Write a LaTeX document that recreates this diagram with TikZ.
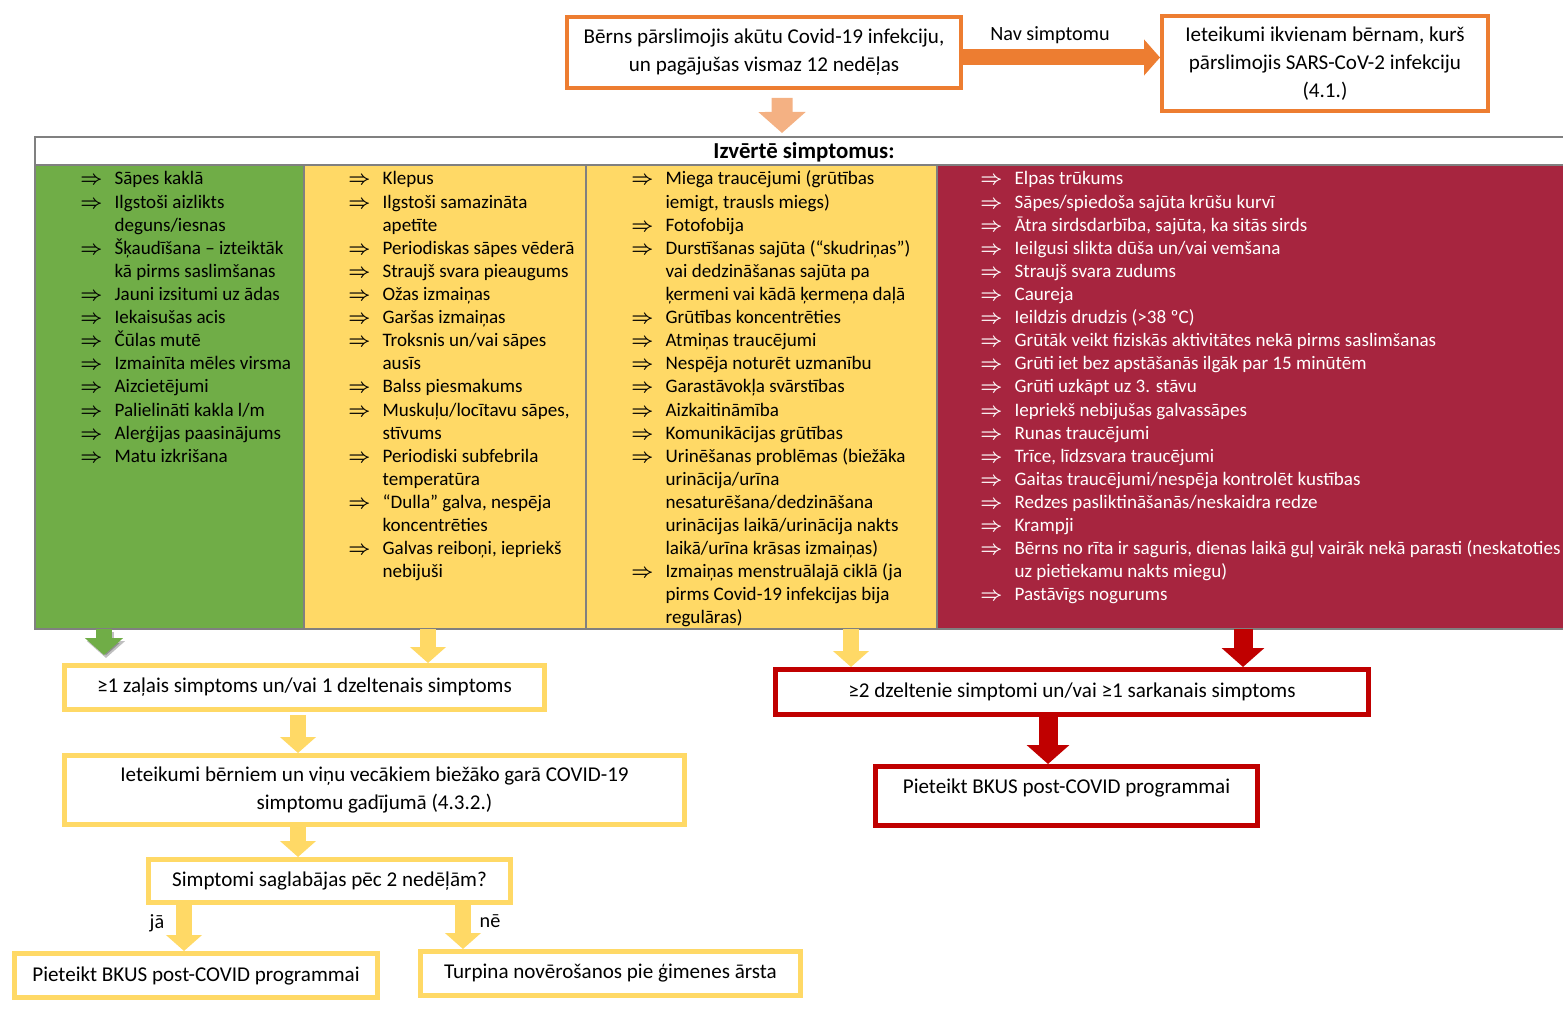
\documentclass[tikz,border=0pt]{standalone}
\usepackage{fontspec}
\usepackage{amsmath}
\setmainfont{Carlito}
\usetikzlibrary{arrows.meta}

\definecolor{covorange}{HTML}{ED7D31}
\definecolor{covpeach}{HTML}{F4B183}
\definecolor{covgreen}{HTML}{70AD47}
\definecolor{covyellow}{HTML}{FFD966}
\definecolor{covmaroon}{HTML}{A7253F}
\definecolor{covred}{HTML}{C00000}

\newcommand{\arr}{\makebox[19.5pt][l]{\boldmath$\Rightarrow$}}
\newcommand{\nxt}{\hspace*{19.5pt}}

\begin{document}
\begin{tikzpicture}[x=0.02cm,y=-0.02cm,
    lst/.style={anchor=base west,inner sep=0pt,font=\fontsize{10.85}{13.15}\selectfont},
    box/.style={draw,align=center,inner sep=0pt,font=\fontsize{12}{15.9}\selectfont},
    obox/.style={box,draw=covorange,line width=0.08cm},
    ybox/.style={box,draw=covyellow,line width=0.1cm},
    rbox/.style={box,draw=covred,line width=0.1cm},
    fat/.style={line width=#1,-{Triangle[width=0pt 2.2,length=0pt 1]}},
    fat/.default=0.32cm]
        \useasboundingbox (0,0) rectangle (1563,1023);

        % top
        \node[obox,minimum width=7.88cm,minimum height=1.42cm](start)at(764,52.5)
            {Bērns pārslimojis akūtu Covid-19 infekciju,\\un pagājušas vismaz 12 nedēļas};
        \node[obox,minimum width=6.52cm,minimum height=1.90cm](advice)at(1325,63.5)
            {Ieteikumi ikvienam bērnam, kurš\\pārslimojis SARS-CoV-2 infekciju\\(4.1.)};
        \node[font=\fontsize{11.5}{15.9}\selectfont](nosym)at(1050,35){Nav simptomu};
        \draw[fat,covorange]([yshift=-0.1cm]start.east)--([yshift=-0.1cm]start.east-|advice.west);

        % table
        \fill[covgreen](35,165)rectangle(304,629);
        \fill[covyellow](304,165)rectangle(937,629);
        \fill[covmaroon](937,165)rectangle(1575,629);
        \draw[gray,line width=0.03cm](35,137)rectangle(1575,629);
        \draw[gray,line width=0.03cm](35,165)--(1575,165);
        \foreach \x in {304,586,937}
            \draw[gray,line width=0.03cm](\x,165)--(\x,629);
        \node[font=\fontsize{13}{15.9}\selectfont\bfseries](evalhdr)at(804,152){Izvērtē simptomus:};
        \coordinate(evaltop)at(782,133);
        \draw[fat=0.42cm,covpeach]([xshift=0.36cm,yshift=-0.16cm]start.south)--(evaltop);

        \node[lst](greenlist)at(80,185){\begin{tabular}[t]{@{}l@{}}
            \arr Sāpes kaklā\\
            \arr Ilgstoši aizlikts\\
            \nxt deguns/iesnas\\
            \arr Šķaudīšana – izteiktāk\\
            \nxt kā pirms saslimšanas\\
            \arr Jauni izsitumi uz ādas\\
            \arr Iekaisušas acis\\
            \arr Čūlas mutē\\
            \arr Izmainīta mēles virsma\\
            \arr Aizcietējumi\\
            \arr Palielināti kakla l/m\\
            \arr Alerģijas paasinājums\\
            \arr Matu izkrišana
        \end{tabular}};
        \node[lst](yellowlist)at(348,185){\begin{tabular}[t]{@{}l@{}}
            \arr Klepus\\
            \arr Ilgstoši samazināta\\
            \nxt apetīte\\
            \arr Periodiskas sāpes vēderā\\
            \arr Straujš svara pieaugums\\
            \arr Ožas izmaiņas\\
            \arr Garšas izmaiņas\\
            \arr Troksnis un/vai sāpes\\
            \nxt ausīs\\
            \arr Balss piesmakums\\
            \arr Muskuļu/locītavu sāpes,\\
            \nxt stīvums\\
            \arr Periodiski subfebrila\\
            \nxt temperatūra\\
            \arr “Dulla” galva, nespēja\\
            \nxt koncentrēties\\
            \arr Galvas reiboņi, iepriekš\\
            \nxt nebijuši
        \end{tabular}};
        \node[lst](yellowlistb)at(631,185){\begin{tabular}[t]{@{}l@{}}
            \arr Miega traucējumi (grūtības\\
            \nxt iemigt, trausls miegs)\\
            \arr Fotofobija\\
            \arr Durstīšanas sajūta (“skudriņas”)\\
            \nxt vai dedzināšanas sajūta pa\\
            \nxt ķermeni vai kādā ķermeņa daļā\\
            \arr Grūtības koncentrēties\\
            \arr Atmiņas traucējumi\\
            \arr Nespēja noturēt uzmanību\\
            \arr Garastāvokļa svārstības\\
            \arr Aizkaitināmība\\
            \arr Komunikācijas grūtības\\
            \arr Urinēšanas problēmas (biežāka\\
            \nxt urinācija/urīna\\
            \nxt nesaturēšana/dedzināšana\\
            \nxt urinācijas laikā/urinācija nakts\\
            \nxt laikā/urīna krāsas izmaiņas)\\
            \arr Izmaiņas menstruālajā ciklā (ja\\
            \nxt pirms Covid-19 infekcijas bija\\
            \nxt regulāras)
        \end{tabular}};
        \node[lst,text=white](redlist)at(980,185){\begin{tabular}[t]{@{}l@{}}
            \arr Elpas trūkums\\
            \arr Sāpes/spiedoša sajūta krūšu kurvī\\
            \arr Ātra sirdsdarbība, sajūta, ka sitās sirds\\
            \arr Ieilgusi slikta dūša un/vai vemšana\\
            \arr Straujš svara zudums\\
            \arr Caureja\\
            \arr Ieildzis drudzis (>38 ºC)\\
            \arr Grūtāk veikt fiziskās aktivitātes nekā pirms saslimšanas\\
            \arr Grūti iet bez apstāšanās ilgāk par 15 minūtēm\\
            \arr Grūti uzkāpt uz 3. stāvu\\
            \arr Iepriekš nebijušas galvassāpes\\
            \arr Runas traucējumi\\
            \arr Trīce, līdzsvara traucējumi\\
            \arr Gaitas traucējumi/nespēja kontrolēt kustības\\
            \arr Redzes pasliktināšanās/neskaidra redze\\
            \arr Krampji\\
            \arr Bērns no rīta ir saguris, dienas laikā guļ vairāk nekā parasti (neskatoties\\
            \nxt uz pietiekamu nakts miegu)\\
            \arr Pastāvīgs nogurums
        \end{tabular}};

        % outcome boxes
        \node[ybox,minimum width=9.60cm,minimum height=0.88cm](mild)at(304.5,687.5)
            {≥1 zaļais simptoms un/vai 1 dzeltenais simptoms};
        \node[rbox,minimum width=11.86cm,minimum height=0.90cm](severe)at(1072,692)
            {≥2 dzeltenie simptomi un/vai ≥1 sarkanais simptoms};
        \node[rbox,minimum width=7.64cm,minimum height=1.18cm,text height=8pt,text depth=11pt](referR)at(1066.5,796)
            {Pieteikt BKUS post-COVID programmai};
        \node[ybox,minimum width=12.40cm,minimum height=1.38cm](tips)at(374.5,790)
            {Ieteikumi bērniem un viņu vecākiem biežāko garā COVID-19\\simptomu gadījumā (4.3.2.)};
        \node[ybox,minimum width=7.24cm,minimum height=0.86cm](persist)at(329.5,881)
            {Simptomi saglabājas pēc 2 nedēļām?};
        \node[ybox,minimum width=7.26cm,minimum height=0.88cm](referY)at(196,975.5)
            {Pieteikt BKUS post-COVID programmai};
        \node[ybox,minimum width=7.60cm,minimum height=0.88cm](gp)at(610.5,973.5)
            {Turpina novērošanos pie ģimenes ārsta};
        \node[font=\fontsize{11.5}{15.9}\selectfont](yes)at(157,923){jā};
        \node[font=\fontsize{11.5}{15.9}\selectfont](no)at(490,921){nē};

        % arrows out of the table
        \coordinate(gsrc)at(104,629);
        \coordinate(gtip)at(104,655);
        \draw[fat=0.34cm,black,opacity=0.25]([xshift=0.04cm,yshift=-0.06cm]gsrc)--([xshift=0.04cm,yshift=-0.06cm]gtip);
        \draw[fat=0.34cm,covgreen](gsrc)--(gtip);
        \coordinate(ysrc)at(428,629);
        \draw[fat,covyellow](ysrc)--(ysrc|-mild.north);
        \coordinate(ysrcb)at(851,629);
        \draw[fat,covyellow](ysrcb)--(ysrcb|-severe.north);
        \coordinate(rsrc)at(1243,629);
        \draw[fat=0.38cm,covred](rsrc)--(rsrc|-severe.north);

        % flow
        \draw[fat=0.38cm,covred]([xshift=-0.48cm]severe.south)--([xshift=-0.48cm]severe.south|-referR.north);
        \draw[fat,covyellow]([xshift=-0.13cm,yshift=-0.06cm]mild.south)--([xshift=-0.13cm]mild.south|-tips.north);
        \draw[fat,covyellow]([xshift=-0.13cm]mild.south|-tips.south)--([xshift=-0.13cm]mild.south|-persist.north);
        \draw[fat,covyellow]([xshift=-0.24cm]referY.north|-persist.south)--([xshift=-0.24cm]referY.north);
        \draw[fat,covyellow]([xshift=2.67cm]persist.south)--([xshift=2.67cm]persist.south|-gp.north);
    \end{tikzpicture}
\end{document}
